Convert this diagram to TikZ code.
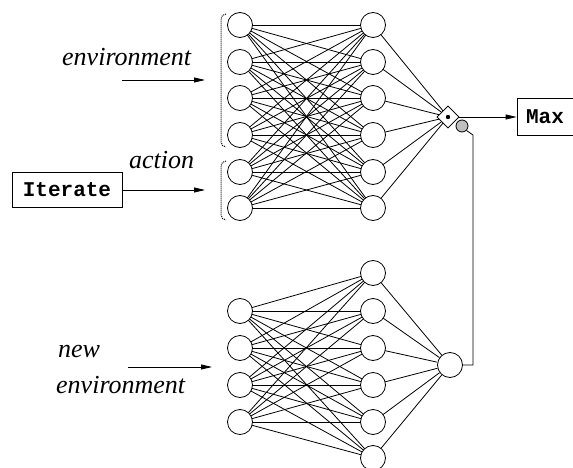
\documentclass[tikz,border=0pt]{standalone}
\usepackage{fontspec}
\setmainfont{Liberation Serif}
\setmonofont{Liberation Mono}
\usetikzlibrary{shapes.geometric,arrows.meta}
\begin{document}
\begin{tikzpicture}[x=1pt,y=-1pt,
  neuron/.style={circle,draw,line width=0.8pt,minimum size=25pt,inner sep=0pt,fill=white},
  conn/.style={line width=0.8pt},
  arr/.style={line width=0.8pt,-{Triangle[length=11pt,width=5pt]}},
  lbl/.style={font=\fontsize{26}{30}\selectfont\itshape,inner sep=0pt,anchor=base west},
  ttbox/.style={draw,line width=0.8pt,font=\fontsize{21}{24}\selectfont\ttfamily\bfseries,inner sep=0pt},
  brk/.style={line width=1pt,densely dotted,rounded corners=5pt},
  comb/.style={diamond,draw,line width=0.8pt,minimum size=22pt,inner sep=0pt,fill=white},
  gate/.style={circle,draw,line width=0.8pt,fill=black!25,minimum size=12pt,inner sep=0pt}]
\useasboundingbox (0,0) rectangle (573,468);
% top network
\foreach \i/\y in {1/25,2/62,3/98,4/135,5/172,6/208}{
  \coordinate (ti\i) at (240,\y);
  \coordinate (th\i) at (373,\y);
}
\foreach \i/\y in {1/311,2/348,3/385,4/422}{
  \coordinate (bi\i) at (240,\y);
}
\foreach \i/\y in {1/273,2/311,3/348,4/385,5/422,6/458}{
  \coordinate (bh\i) at (373,\y);
}
\node[neuron] (bo) at (450,365) {};
\node[comb] (d) at (448,117) {};
% connections
\foreach \i in {1,...,6}{
  \foreach \j in {1,...,6}{
    \draw[conn] (ti\i) -- (th\j);
  }
  \draw[conn] (th\i) -- (d);
  \draw[conn] (bh\i) -- (bo);
}
\foreach \i in {1,...,4}{
  \foreach \j in {1,...,6}{
    \draw[conn] (bi\i) -- (bh\j);
  }
}
% neurons on top
\foreach \i in {1,...,6}{
  \node[neuron] (nti\i) at (ti\i) {};
  \node[neuron] (nth\i) at (th\i) {};
  \node[neuron] (nbh\i) at (bh\i) {};
}
\foreach \i in {1,...,4}{\node[neuron] (nbi\i) at (bi\i) {};}
\node[comb] (d2) at (d) {};
\fill (d2) circle (2.2pt);
\node[gate] (g) at (462,126) {};
% feedback line
\coordinate (gc) at (473,135);
\coordinate (bc) at (473,365);
\draw[conn] (bo.east) -- (bc) -- (gc) -- (g.south east);
% output
\node[ttbox,minimum width=56pt,minimum height=37pt] (max) at (545,117) {Max};
\draw[arr] (d2.east) -- (max.west);
% iterate
\node[ttbox,minimum width=110pt,minimum height=35pt] (it) at (67,190) {Iterate};
\coordinate (a2) at (205,190);
\draw[arr] (it.east) -- (a2);
% environment arrows
\coordinate (e1s) at (122,80);
\coordinate (e1e) at (205,80);
\draw[arr] (e1s) -- (e1e);
\coordinate (e2s) at (128,367);
\coordinate (e2e) at (212,367);
\draw[arr] (e2s) -- (e2e);
% labels
\node[lbl] (tenv) at (62,66) {environment};
\node[lbl] (tact) at (129,168) {action};
\node[lbl] (tnew) at (58,357) {new};
\node[lbl] (tnenv) at (56,393) {environment};
% dotted brackets
\draw[brk] (226,14) -- (221,14) -- (221,147) -- (226,147);
\draw[brk] (226,161) -- (221,161) -- (221,220) -- (226,220);
\end{tikzpicture}
\end{document}
